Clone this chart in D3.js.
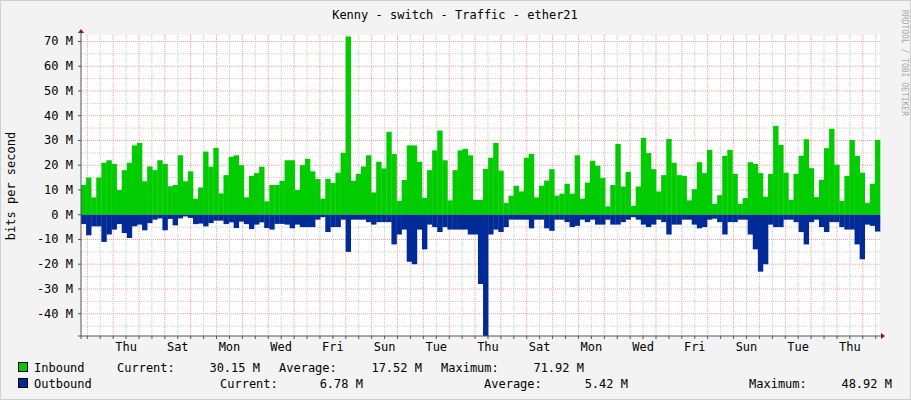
<!DOCTYPE html>
<html>
<head>
<meta charset="utf-8">
<script src="https://cdn.jsdelivr.net/npm/d3@7"></script>
<style>
body { margin: 0; background: #fff; }
text { font-family: "DejaVu Sans Mono", monospace; font-size: 12px; fill: #000; }
</style>
</head>
<body>
<div class="container"></div>
<script>
const inbound = [
  12,15,7,15,21,22,20.5,10,18,21,28,29,13.5,19.5,18,22,20.5,11.5,12,24,13.5,17.5,6.5,11,25.5,19.4,27,8.6,16,23.4,24,20,7,15.7,16.8,19.4,5.4,12,
  12,13.7,22,22,10,20,22.6,17.5,14.4,6.5,14.5,12.8,17,25,72,13.7,16.5,19.5,24,9,21.4,18.7,33.5,24.5,5.6,14,28,28,21.4,6.8,18,26,34,22,5.8,18,26,26.6,24,6,
  6,18.5,23,29,17.8,4.7,7.7,11.7,9.4,23,24.6,7,11.7,13.8,18.4,7.7,8.5,12.5,8.5,24,6.5,13,21.8,19.8,14.8,3.4,12,28.6,11.4,17.3,3.6,11.4,31,24.9,18.4,9.4,16,30.6,21,16,
  15.7,5.8,10.3,21.2,16.8,26.2,4.4,7.9,23.8,26.2,16.5,4.4,6.7,21.2,20.5,16.8,7.3,16.5,35.9,28.2,17,6,16.5,23.8,30.5,18.8,7.1,14.1,26.9,34.7,20.2,5.6,15.7,30.2,23.8,17,4.7,12.5,30.2
];
const outbound = [
  3.8,8.3,4.7,4.7,11,8,6,3.8,7.4,9.4,4.7,4,6.3,3.4,2,1.5,6.3,1.7,4.3,1.5,0.7,1.3,3.8,3.6,4.7,3.4,2.4,2.4,3.8,3.1,5.4,2.8,3.8,5.8,4,3.1,5.4,6,
  3.7,3.7,4,5.5,4,5,5,5,2,1,7,5,5,2,15,2,2,2,3,4,3,3,3,12,8,6,19,20,6,14,4,5,7,5,6,6,6,6,8,8,
  28,49,8,6,7,5,2,2,2,2,5.5,2,2,5.5,6.5,2,2,3,5,4.5,2,3,2,4,4,2,4,4,3,2,1,2,4,5,4,2,3,8,4,4,
  2,2,4,5.5,5,2,1.6,3,8,3,3,2,2,8,14,23,20,4,5,5,2,2,3,7,12,3,2,5,7,3,3,5,6,6,12,18,4,4.5,6.8
];
const dayLabels = ['Thu','Sat','Mon','Wed','Fri','Sun','Tue','Thu','Sat','Mon','Wed','Fri','Sun','Tue','Thu'];
const yTicks = [70,60,50,40,30,20,10,0,-10,-20,-30,-40];

const L = 81, R = 880, T = 35, B = 336;
const svg = d3.select('.container').append('svg').attr('width', 911).attr('height', 400);
svg.append('rect').attr('width', 911).attr('height', 400).attr('fill', '#f3f3f3');
svg.append('rect').attr('x', 0.5).attr('y', 0.5).attr('width', 910).attr('height', 399)
  .attr('fill', 'none').attr('stroke', '#cfcfcf');
svg.append('rect').attr('x', L).attr('y', T).attr('width', R - L).attr('height', B - T).attr('fill', '#fff');

const y = d3.scaleLinear().domain([-49, 72.6]).range([B, T]);
const x = d3.scaleBand().domain(d3.range(inbound.length)).range([L, R]).paddingInner(0);
const day = d3.scaleLinear().domain([0, 1]).range([87.3, 87.3 + 25.85]);

// grid
for (let v = -45; v <= 70; v += 5) {
  svg.append('line').attr('x1', L).attr('x2', R).attr('y1', y(v)).attr('y2', y(v))
    .attr('stroke', v % 10 === 0 ? '#f4a0a0' : '#ccc').attr('stroke-dasharray', '1,1');
}
for (let d = 0; d < 31; d += 0.5) {
  const px = day(d);
  if (px > R) break;
  svg.append('line').attr('x1', px).attr('x2', px).attr('y1', T).attr('y2', B)
    .attr('stroke', d % 1 === 0 ? '#f4a0a0' : '#ccc').attr('stroke-dasharray', '1,1');
}

// bars
svg.selectAll('.in').data(inbound).join('rect')
  .attr('x', (d, i) => x(i)).attr('width', x.bandwidth() + 0.3)
  .attr('y', d => y(d)).attr('height', d => y(0) - y(d)).attr('fill', '#00cc00');
svg.selectAll('.out').data(outbound).join('rect')
  .attr('x', (d, i) => x(i)).attr('width', x.bandwidth() + 0.3)
  .attr('y', y(0)).attr('height', d => y(-d) - y(0)).attr('fill', '#002a97');

// axes
svg.append('line').attr('x1', L).attr('x2', L).attr('y1', T - 3).attr('y2', B + 3).attr('stroke', '#555');
svg.append('line').attr('x1', L - 3).attr('x2', R + 2).attr('y1', B).attr('y2', B).attr('stroke', '#555');
svg.append('path').attr('d', `M${L - 3},${T - 2}L${L + 3},${T - 2}L${L},${T - 6}Z`).attr('fill', '#8b1a1a');
svg.append('path').attr('d', `M${R + 1},${B - 3}L${R + 1},${B + 3}L${R + 5},${B}Z`).attr('fill', '#8b1a1a');

yTicks.forEach(v => {
  svg.append('line').attr('x1', L - 3).attr('x2', L).attr('y1', y(v)).attr('y2', y(v)).attr('stroke', '#555');
  svg.append('text').attr('x', 73).attr('y', y(v) + 4).attr('text-anchor', 'end')
    .text((v < 0 ? '-' : '') + Math.abs(v) + ' M');
});
for (let d = 0; d < 31; d += 0.5) {
  const px = day(d);
  if (px > R) break;
  svg.append('line').attr('x1', px).attr('x2', px).attr('y1', B).attr('y2', B + 3).attr('stroke', '#555');
}
dayLabels.forEach((t, i) => {
  svg.append('text').attr('x', day(1.5 + 2 * i)).attr('y', 351).attr('text-anchor', 'middle').text(t);
});

svg.append('text').attr('x', 455).attr('y', 19).attr('text-anchor', 'middle').text('Kenny - switch - Traffic - ether21');
svg.append('text').attr('transform', 'translate(15,186) rotate(-90)').attr('text-anchor', 'middle').text('bits per second');
svg.append('text').attr('transform', 'translate(902,10) rotate(90)').style('font-size', '8px').style('fill', '#aaa')
  .text('RRDTOOL / TOBI OETIKER');

// legend
const legend = [
  { name: 'Inbound', color: '#00cc00', y: 372,
    items: [[117, 'Current:', 'start'], [260, '30.15 M', 'end'], [279, 'Average:', 'start'], [422, '17.52 M', 'end'], [441, 'Maximum:', 'start'], [584, '71.92 M', 'end']] },
  { name: 'Outbound', color: '#002a97', y: 388,
    items: [[220, 'Current:', 'start'], [363, '6.78 M', 'end'], [484, 'Average:', 'start'], [628, '5.42 M', 'end'], [749, 'Maximum:', 'start'], [892, '48.92 M', 'end']] }
];
legend.forEach(g => {
  svg.append('rect').attr('x', 18.5).attr('y', g.y - 9.5).attr('width', 9).attr('height', 9)
    .attr('fill', g.color).attr('stroke', '#000');
  svg.append('text').attr('x', 34).attr('y', g.y).text(g.name);
  g.items.forEach(([px, t, a]) => svg.append('text').attr('x', px).attr('y', g.y).attr('text-anchor', a).text(t));
});
</script>
</body>
</html>
